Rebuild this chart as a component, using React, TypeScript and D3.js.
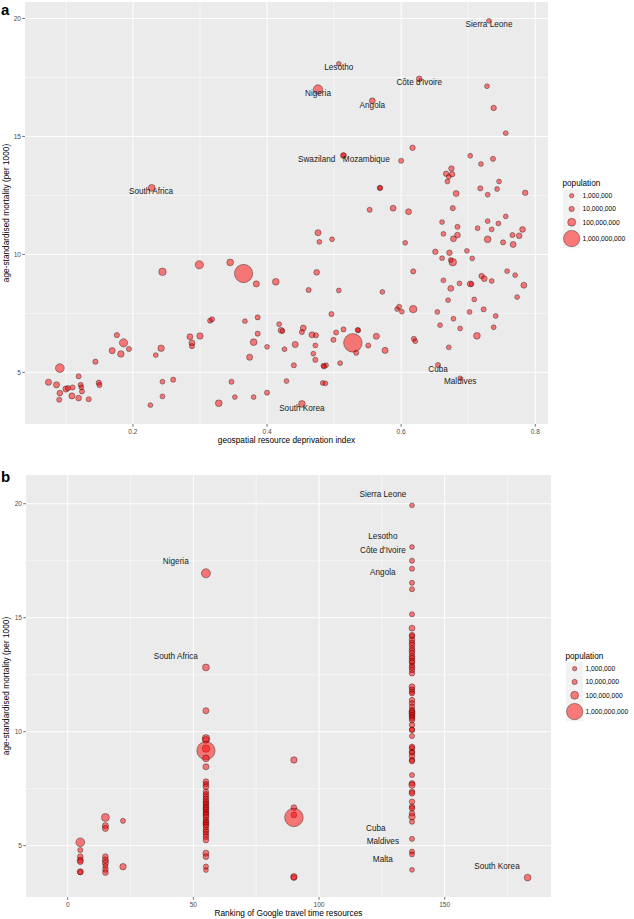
import * as d3 from "d3";

// panel a: geospatial resource deprivation index vs mortality
const deprivation = [
  0.074, 0.086, 0.091, 0.091, 0.090, 0.100, 0.103, 0.109, 0.110, 0.119, 0.122, 0.123, 0.124, 0.119, 0.134,
  0.144, 0.149, 0.150, 0.169, 0.176, 0.182, 0.186, 0.194, 0.226, 0.234, 0.242, 0.244, 0.244, 0.244, 0.260,
  0.285, 0.288, 0.288, 0.299, 0.300, 0.315, 0.318, 0.328, 0.345, 0.347, 0.352, 0.365, 0.367, 0.374, 0.380,
  0.380, 0.384, 0.386, 0.386, 0.400, 0.400, 0.413, 0.418, 0.421, 0.423, 0.426, 0.429, 0.442, 0.440, 0.452,
  0.452, 0.454, 0.462, 0.467, 0.469, 0.472, 0.472, 0.474, 0.473, 0.476, 0.478,
  0.553, 0.588, 0.611, 0.677, 0.497, 0.606, 0.661, 0.684, 0.663, 0.684, 0.678, 0.714, 0.729, 0.735, 0.745,
  0.756, 0.729, 0.752, 0.766, 0.767, 0.776, 0.781, 0.651, 0.672, 0.661, 0.677, 0.674, 0.698, 0.706, 0.507,
  0.572, 0.618, 0.663, 0.687, 0.674, 0.703, 0.705, 0.720, 0.724, 0.735, 0.758, 0.770, 0.783, 0.773, 0.709,
  0.670, 0.496, 0.594, 0.597, 0.601, 0.618, 0.654, 0.678, 0.702, 0.723, 0.741, 0.658, 0.688, 0.738, 0.713,
  0.671, 0.514, 0.503, 0.499, 0.536, 0.535, 0.528, 0.533, 0.551, 0.563, 0.576, 0.619, 0.621, 0.509, 0.488,
  0.484, 0.485, 0.483, 0.487, 0.655, 0.688,
  0.731, 0.507, 0.627, 0.728, 0.476, 0.557, 0.738, 0.756, 0.617, 0.514, 0.514, 0.600, 0.703, 0.719, 0.737,
  0.675, 0.667, 0.676, 0.671, 0.669, 0.746, 0.718, 0.743, 0.568, 0.569, 0.682, 0.729, 0.785, 0.228,
];
const mortalityA = [
  4.58, 4.47, 5.18, 4.12, 3.84, 4.29, 4.33, 4.00, 4.36, 4.83, 4.47, 4.36, 4.19, 3.91, 3.86,
  5.45, 4.56, 4.46, 5.92, 6.58, 5.78, 6.25, 5.99, 3.61, 5.73, 6.02, 4.60, 3.98, 9.26, 4.69,
  6.51, 6.25, 6.11, 9.56, 6.54, 7.19, 7.25, 3.69, 9.66, 4.60, 3.95, 9.19, 7.17, 5.64, 6.28,
  3.95, 8.75, 7.33, 6.64, 6.08, 4.14, 8.84, 7.04, 6.78, 6.75, 5.98, 4.63, 6.18, 5.30, 3.66,
  6.71, 6.88, 8.49, 6.59, 5.79, 6.14, 5.53, 9.24, 6.57, 10.92, 10.53,
  11.89, 11.96, 11.81, 11.96, 10.64, 10.49, 11.37, 11.17, 10.87, 10.82, 10.66, 11.11, 11.41, 11.06, 11.31,
  11.61, 10.64, 10.51, 10.82, 10.42, 10.79, 11.06, 10.11, 10.07, 9.84, 9.67, 9.76, 10.15, 9.83, 8.47,
  8.41, 9.28, 8.90, 8.77, 8.56, 8.75, 8.74, 9.08, 8.97, 8.87, 9.29, 9.12, 8.69, 8.19, 8.09,
  8.06, 7.47, 7.68, 7.78, 7.57, 7.68, 7.56, 7.27, 7.56, 7.67, 7.39, 7.00, 6.86, 6.91, 6.55,
  6.06, 6.82, 6.69, 6.38, 6.78, 6.80, 6.25, 5.83, 6.14, 6.53, 5.93, 6.42, 6.32, 5.39, 5.30,
  5.28, 5.24, 4.55, 4.53, 5.31, 4.75,
  19.90, 18.08, 17.44, 17.13, 16.99, 16.51, 16.21, 15.14, 14.52, 14.19, 14.19, 13.97, 14.18, 13.83, 14.05,
  13.64, 13.42, 13.40, 13.29, 13.09, 13.09, 12.80, 12.77, 12.82, 12.82, 12.58, 12.53, 12.61, 12.82,
];
// population in millions
const populationA = [
  30, 30, 150, 20, 8, 30, 10, 30, 8, 8, 8, 5, 8, 20, 8,
  10, 10, 8, 30, 10, 40, 120, 8, 5, 5, 40, 5, 5, 80, 8,
  25, 25, 8, 120, 40, 8, 8, 50, 50, 8, 5, 1340, 5, 30, 50,
  5, 30, 8, 8, 5, 8, 50, 5, 25, 5, 5, 5, 30, 8, 50,
  8, 25, 8, 25, 5, 5, 8, 20, 8, 30, 5,
  8, 25, 25, 8, 5, 5, 5, 8, 5, 20, 25, 5, 5, 5, 5,
  5, 50, 8, 8, 25, 20, 20, 15, 15, 5, 80, 5, 5, 5, 5,
  5, 8, 5, 5, 25, 25, 5, 15, 20, 5, 5, 5, 25, 5, 5,
  5, 8, 5, 8, 5, 80, 5, 5, 5, 8, 5, 5, 5, 5, 50,
  5, 8, 8, 8, 8, 5, 1390, 8, 8, 30, 30, 8, 5, 5, 5,
  5, 5, 5, 5, 8, 3,
  5, 3, 20, 5, 190, 25, 15, 5, 15, 3, 25, 8, 5, 5, 8,
  15, 15, 15, 5, 5, 5, 8, 5, 8, 5, 25, 5, 15, 55,
];
const labelNamesA = ["Sierra Leone", "Lesotho", "Côte d'Ivoire", "Nigeria", "Angola", "Swaziland", "Mozambique", "South Africa", "Cuba", "Maldives", "South Korea"];
const labelXA = [0.731, 0.507, 0.627, 0.476, 0.557, 0.474, 0.548, 0.227, 0.655, 0.688, 0.452];
const labelYA = [19.76, 17.92, 17.31, 16.82, 16.34, 14.05, 14.05, 12.68, 5.15, 4.62, 3.5];

// panel b: Google travel time ranking vs mortality
const rankB = [
  5, 5, 5, 5, 5, 5, 5,
  15, 15, 15, 15, 15, 15, 15, 15, 15,
  22, 22,
  55, 55, 55, 55, 55, 55, 55, 55, 55, 55, 55, 55, 55, 55, 55, 55, 55, 55, 55, 55,
  55, 55, 55, 55, 55, 55, 55, 55, 55, 55, 55, 55, 55, 55, 55, 55, 55, 55, 55,
  90, 90, 90, 90, 90, 90,
  137, 137, 137, 137, 137, 137, 137, 137, 137, 137, 137, 137, 137, 137, 137, 137, 137, 137, 137, 137,
  137, 137, 137, 137, 137, 137, 137, 137, 137, 137, 137, 137, 137, 137, 137, 137, 137, 137, 137, 137,
  137, 137, 137, 137, 137, 137, 137, 137, 137, 137, 137, 137, 137, 137, 137, 137, 137, 137, 137, 137,
  137, 137, 137, 137,
  183, 55,
];
const mortalityB = [
  5.15, 4.81, 4.52, 4.37, 4.30, 3.86, 3.84,
  6.24, 5.88, 5.76, 4.52, 4.37, 4.25, 4.11, 3.96, 3.82,
  6.09, 4.08,
  12.82, 10.92, 9.71, 9.64, 9.26, 9.17, 8.83, 8.46, 7.81, 7.70, 7.59, 7.37, 7.25, 7.15, 7.04, 6.93, 6.86,
  6.79, 6.71, 6.64, 6.57, 6.49, 6.42, 6.35, 6.25, 6.13, 6.05, 5.98, 5.92, 5.83, 5.70, 5.61, 5.50, 5.39,
  5.25, 4.67, 4.52, 4.08, 3.93,
  8.76, 6.67, 6.35, 6.24, 3.64, 3.60,
  19.93, 18.10, 17.50, 17.15, 16.53, 16.25, 15.15, 14.54, 14.24, 14.18, 14.02, 13.90, 13.80, 13.66, 13.55,
  13.44, 13.30, 13.22, 13.10, 13.03, 12.90, 12.82, 12.70, 12.56, 11.97, 11.85, 11.75, 11.68, 11.39, 11.25,
  11.10, 10.95, 10.88, 10.81, 10.73, 10.66, 10.59, 10.51, 10.30, 10.10, 10.07, 9.81, 9.34, 9.27, 9.12,
  9.08, 8.93, 8.76, 8.71, 8.10, 7.74, 7.66, 7.37, 7.30, 6.93, 6.71, 6.64, 6.42, 6.27, 6.05,
  5.30, 4.74, 4.62, 3.94,
  3.60, 16.95,
];
const populationB = [
  150, 8, 20, 30, 20, 30, 10,
  100, 30, 30, 20, 30, 30, 10, 20, 20,
  8, 40,
  55, 30, 80, 50, 80, 1340, 50, 30, 20, 15, 25, 15, 20, 15, 20, 25, 15,
  20, 15, 25, 15, 20, 15, 25, 20, 15, 20, 25, 15, 20, 15, 20, 15, 20,
  20, 30, 20, 10, 5,
  40, 20, 20, 1390, 40, 20,
  5, 5, 8, 8, 8, 8, 8, 25, 15, 15, 20, 15, 20, 15, 20,
  15, 20, 15, 20, 15, 8, 20, 15, 15, 25, 15, 15, 8, 15, 15,
  15, 15, 25, 25, 20, 15, 15, 15, 15, 8, 15, 8, 15, 15, 15,
  15, 20, 15, 15, 8, 15, 40, 15, 20, 15, 15, 15, 15, 40, 8,
  8, 8, 8, 5,
  50, 170,
];
const labelNamesB = ["Sierra Leone", "Lesotho", "Côte d'Ivoire", "Angola", "Nigeria", "South Africa", "Cuba", "Maldives", "Malta", "South Korea"];
const labelXB = [125.4, 125.4, 125.4, 125.4, 43, 43, 122.6, 125.4, 125.4, 170.8];
const labelYB = [20.43, 18.59, 17.98, 17.0, 17.49, 13.32, 5.78, 5.21, 4.42, 4.11];

const yTicks = [5, 10, 15, 20];
const yMinor = [7.5, 12.5, 17.5];
const xTicksA = [0.2, 0.4, 0.6, 0.8];
const xMinorA = [0.1, 0.3, 0.5, 0.7];
const xTicksB = [0, 50, 100, 150];
const xMinorB = [25, 75, 125, 175];
const legendBreaks = [1, 10, 100, 1000];
const legendLabels = ["1,000,000", "10,000,000", "100,000,000", "1,000,000,000"];

const FONT = "'Liberation Sans', Arial, Helvetica, sans-serif";
const rScale = d3.scaleSqrt().domain([0, 1400]).range([2.0, 9.3]);

type PanelProps = {
  letter: string;
  letterY: number;
  left: number;
  right: number;
  top: number;
  bottom: number;
  xDomain: [number, number];
  yDomain: [number, number];
  xs: number[];
  ys: number[];
  pops: number[];
  xTicks: number[];
  xMinor: number[];
  xTitle: string;
  labelNames: string[];
  labelX: number[];
  labelY: number[];
  legendTitleY: number;
};

function Panel(p: PanelProps) {
  const x = d3.scaleLinear().domain(p.xDomain).range([p.left, p.right]);
  const y = d3.scaleLinear().domain(p.yDomain).range([p.bottom, p.top]);
  const inX = (v: number) => v >= p.xDomain[0] && v <= p.xDomain[1];
  const inY = (v: number) => v >= p.yDomain[0] && v <= p.yDomain[1];

  // legend layout
  const keyLeft = p.right + 15;
  let keyTop = p.legendTitleY + 3.5;
  const keys = legendBreaks.map((b, i) => {
    const r = rScale(b);
    const h = Math.max(13.3, 2 * r + 3);
    const k = { top: keyTop, h, r, label: legendLabels[i] };
    keyTop += h;
    return k;
  });

  return (
    <g fontFamily={FONT}>
      <text x={1} y={p.letterY} fontSize={15} fontWeight="bold" fill="#000">{p.letter}</text>
      <rect x={p.left} y={p.top} width={p.right - p.left} height={p.bottom - p.top} fill="#EBEBEB" />
      {yMinor.filter(inY).map((v) => (
        <line key={"ym" + v} x1={p.left} x2={p.right} y1={y(v)} y2={y(v)} stroke="#fff" strokeWidth={0.5} />
      ))}
      {p.xMinor.filter(inX).map((v) => (
        <line key={"xm" + v} x1={x(v)} x2={x(v)} y1={p.top} y2={p.bottom} stroke="#fff" strokeWidth={0.5} />
      ))}
      {yTicks.filter(inY).map((v) => (
        <line key={"yg" + v} x1={p.left} x2={p.right} y1={y(v)} y2={y(v)} stroke="#fff" strokeWidth={1} />
      ))}
      {p.xTicks.filter(inX).map((v) => (
        <line key={"xg" + v} x1={x(v)} x2={x(v)} y1={p.top} y2={p.bottom} stroke="#fff" strokeWidth={1} />
      ))}

      {p.xs.map((v, i) => (
        <circle
          key={"pt" + i}
          cx={x(v)}
          cy={y(p.ys[i])}
          r={rScale(p.pops[i])}
          fill="rgba(255,0,0,0.5)"
          stroke="rgba(0,0,0,0.5)"
          strokeWidth={0.7}
        />
      ))}

      {p.labelNames.map((n, i) => (
        <text
          key={"lb" + i}
          x={x(p.labelX[i])}
          y={y(p.labelY[i])}
          dy="0.35em"
          textAnchor="middle"
          fontSize={8.2}
          fill="#1a1a1a"
        >
          {n}
        </text>
      ))}

      {/* y axis */}
      {yTicks.filter(inY).map((v) => (
        <g key={"yt" + v}>
          <line x1={p.left - 2.75} x2={p.left} y1={y(v)} y2={y(v)} stroke="#333" strokeWidth={0.7} />
          <text x={p.left - 4} y={y(v)} dy="0.35em" textAnchor="end" fontSize={6.6} fill="#4D4D4D">{v}</text>
        </g>
      ))}
      {/* x axis */}
      {p.xTicks.filter(inX).map((v) => (
        <g key={"xt" + v}>
          <line x1={x(v)} x2={x(v)} y1={p.bottom} y2={p.bottom + 2.75} stroke="#333" strokeWidth={0.7} />
          <text x={x(v)} y={p.bottom + 9.6} textAnchor="middle" fontSize={6.6} fill="#4D4D4D">{v}</text>
        </g>
      ))}
      <text x={(p.left + p.right) / 2} y={p.bottom + 19} textAnchor="middle" fontSize={8.3} fill="#000">
        {p.xTitle}
      </text>
      <text
        transform={`translate(8.5,${(p.top + p.bottom) / 2}) rotate(-90)`}
        textAnchor="middle"
        fontSize={8.3}
        fill="#000"
      >
        age-standardised mortality (per 1000)
      </text>

      {/* legend */}
      <text x={keyLeft - 0.5} y={p.legendTitleY} fontSize={8.2} fill="#000">population</text>
      {keys.map((k, i) => (
        <g key={"lg" + i}>
          <rect x={keyLeft} y={k.top} width={17.3} height={k.h} fill="#F2F2F2" />
          <circle
            cx={keyLeft + 8.65}
            cy={k.top + k.h / 2}
            r={k.r}
            fill="rgba(255,0,0,0.5)"
            stroke="rgba(0,0,0,0.5)"
            strokeWidth={0.7}
          />
          <text x={keyLeft + 19.5} y={k.top + k.h / 2} dy="0.35em" fontSize={6.7} fill="#000">{k.label}</text>
        </g>
      ))}
    </g>
  );
}

export default function App() {
  return (
    <svg
      width={634}
      height={919}
      style={{ position: "absolute", left: 0, top: 0, display: "block", background: "#fff" }}
    >
      <Panel
        letter="a"
        letterY={15}
        left={25}
        right={548}
        top={2}
        bottom={424}
        xDomain={[0.039, 0.819]}
        yDomain={[2.81, 20.7]}
        xs={deprivation}
        ys={mortalityA}
        pops={populationA}
        xTicks={xTicksA}
        xMinor={xMinorA}
        xTitle="geospatial resource deprivation index"
        labelNames={labelNamesA}
        labelX={labelXA}
        labelY={labelYA}
        legendTitleY={185.5}
      />
      <Panel
        letter="b"
        letterY={482}
        left={26}
        right={551}
        top={475}
        bottom={897}
        xDomain={[-16.6, 192.3]}
        yDomain={[2.75, 21.26]}
        xs={rankB}
        ys={mortalityB}
        pops={populationB}
        xTicks={xTicksB}
        xMinor={xMinorB}
        xTitle="Ranking of Google travel time resources"
        labelNames={labelNamesB}
        labelX={labelXB}
        labelY={labelYB}
        legendTitleY={658.5}
      />
    </svg>
  );
}
